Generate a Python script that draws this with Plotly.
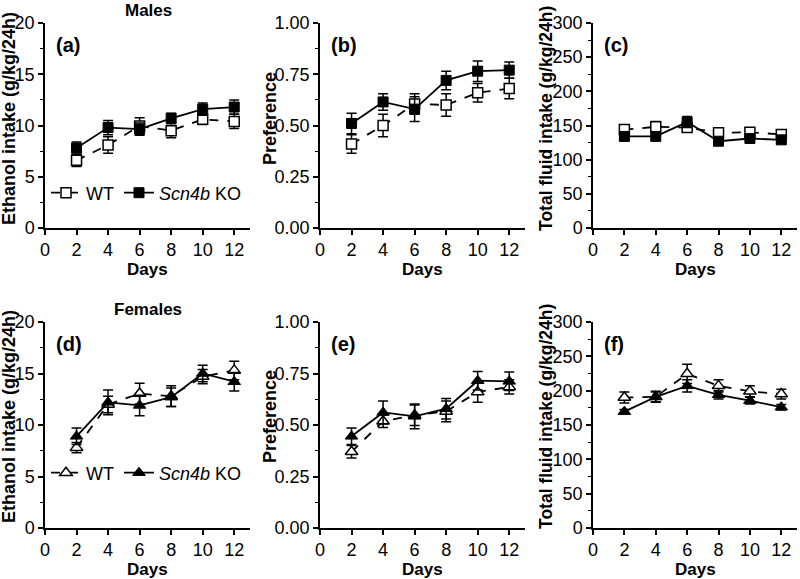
import plotly.graph_objects as go

days = [2, 4, 6, 8, 10, 12]
day_ticks = [0, 2, 4, 6, 8, 10, 12]

# Males
m_eth_wt = [6.6, 8.1, 9.95, 9.5, 10.6, 10.4]
m_eth_wt_err = [0.6, 0.8, 0.8, 0.7, 0.5, 0.7]
m_eth_ko = [7.8, 9.8, 9.65, 10.7, 11.6, 11.8]
m_eth_ko_err = [0.6, 0.7, 0.6, 0.5, 0.6, 0.7]

m_pref_wt = [0.41, 0.50, 0.605, 0.60, 0.66, 0.68]
m_pref_wt_err = [0.045, 0.055, 0.05, 0.055, 0.045, 0.05]
m_pref_ko = [0.51, 0.615, 0.58, 0.72, 0.765, 0.77]
m_pref_ko_err = [0.05, 0.04, 0.06, 0.045, 0.05, 0.04]

m_tot_wt = [144, 148, 147, 139.5, 140, 137]
m_tot_wt_err = [5, 8, 6, 5, 4, 4]
m_tot_ko = [134, 134, 155, 127, 131, 129]
m_tot_ko_err = [4, 5, 8, 4, 4, 4]

# Females
f_eth_wt = [7.8, 12.0, 13.05, 12.8, 14.7, 15.3]
f_eth_wt_err = [0.5, 0.8, 1.0, 1.0, 0.7, 0.9]
f_eth_ko = [8.9, 12.2, 11.9, 12.7, 15.0, 14.2]
f_eth_ko_err = [0.8, 1.2, 1.0, 0.9, 0.8, 0.9]

f_pref_wt = [0.37, 0.518, 0.547, 0.566, 0.66, 0.685]
f_pref_wt_err = [0.03, 0.03, 0.05, 0.05, 0.05, 0.035]
f_pref_ko = [0.445, 0.561, 0.542, 0.579, 0.715, 0.712]
f_pref_ko_err = [0.04, 0.055, 0.06, 0.05, 0.045, 0.045]

f_tot_wt = [190, 191, 224.5, 207, 199, 195]
f_tot_wt_err = [8, 7, 14, 9, 8, 7]
f_tot_ko = [169.5, 191, 207, 194, 185.5, 176]
f_tot_ko_err = [3, 8, 9, 6, 5, 4]

panel_letters = ["(a)", "(b)", "(c)", "(d)", "(e)", "(f)"]
ylabels = ["Ethanol intake (g/kg/24h)", "Preference", "Total fluid intake (g/kg/24h)"]
xlabel = "Days"
row_titles = ["Males", "Females"]

FONT = "Liberation Sans, Arial, Helvetica, sans-serif"
W, H = 800, 579

fig = go.Figure()

x_px = [(45, 250), (320, 525), (593, 797)]
y_px = [(23, 228), (322, 528)]
x_domains = [[a / W, b / W] for a, b in x_px]
y_domains = [[1 - b / H, 1 - a / H] for a, b in y_px]
ytitle_x = [9, 270, 546]
ytitle_size = [18, 18, 17.5]
ytitle_y = [119, 417]
xtitle_y = [269, 569]

panels = [
    (0, 0, m_eth_wt, m_eth_wt_err, m_eth_ko, m_eth_ko_err, [0, 20], 5, 2.5, None),
    (0, 1, m_pref_wt, m_pref_wt_err, m_pref_ko, m_pref_ko_err, [0, 1], 0.25, 0.125, ".2f"),
    (0, 2, m_tot_wt, m_tot_wt_err, m_tot_ko, m_tot_ko_err, [0, 300], 50, 25, None),
    (1, 0, f_eth_wt, f_eth_wt_err, f_eth_ko, f_eth_ko_err, [0, 20], 5, 2.5, None),
    (1, 1, f_pref_wt, f_pref_wt_err, f_pref_ko, f_pref_ko_err, [0, 1], 0.25, 0.125, ".2f"),
    (1, 2, f_tot_wt, f_tot_wt_err, f_tot_ko, f_tot_ko_err, [0, 300], 50, 25, None),
]

for i, (r, c, wt, wte, ko, koe, yr, dt, mn, fmt) in enumerate(panels):
    idx = i + 1
    xa = "x" if idx == 1 else f"x{idx}"
    ya = "y" if idx == 1 else f"y{idx}"
    sym = "square" if r == 0 else "triangle-up"
    msize = 10 if r == 0 else 11
    leg = "legend" if r == 0 else "legend2"
    show = (c == 0)
    fig.add_trace(go.Scatter(
        x=days, y=wt, xaxis=xa, yaxis=ya, mode="lines+markers",
        name="WT", legend=leg, showlegend=show,
        line=dict(color="black", width=1.8, dash="dash"),
        marker=dict(symbol=sym, size=msize, color="white",
                    line=dict(color="black", width=1.5)),
        error_y=dict(type="data", array=wte, color="black", thickness=1.5, width=5),
    ))
    fig.add_trace(go.Scatter(
        x=days, y=ko, xaxis=xa, yaxis=ya, mode="lines+markers",
        name="<i>Scn4b</i> KO", legend=leg, showlegend=show,
        line=dict(color="black", width=1.8),
        marker=dict(symbol=sym, size=msize, color="black",
                    line=dict(color="black", width=1)),
        error_y=dict(type="data", array=koe, color="black", thickness=1.5, width=5),
    ))
    axis_common = dict(showline=True, linecolor="black", linewidth=1.5,
                       ticks="outside", tickcolor="black", tickwidth=1.5, ticklen=5,
                       showgrid=False, zeroline=False, automargin=False,
                       tickfont=dict(family=FONT, size=18, color="black"))
    xkey = "xaxis" if idx == 1 else f"xaxis{idx}"
    ykey = "yaxis" if idx == 1 else f"yaxis{idx}"
    fig.layout[xkey] = dict(domain=x_domains[c], anchor=ya, range=[0, 13],
                            tickvals=day_ticks, **axis_common)
    yd = dict(domain=y_domains[r], anchor=xa, range=yr, dtick=dt,
              minor=dict(dtick=mn, ticks="outside", ticklen=3, tickcolor="black", tickwidth=1),
              **axis_common)
    if fmt:
        yd["tickformat"] = fmt
    fig.layout[ykey] = yd
    fig.add_annotation(text=f"<b>{panel_letters[i]}</b>", xref="paper", yref="paper",
                       x=(x_px[c][0] + 9) / W, y=1 - (y_px[r][0] + 22) / H,
                       xanchor="left", yanchor="middle", showarrow=False,
                       font=dict(family=FONT, size=20, color="black"))
    fig.add_annotation(text=f"<b>{ylabels[c]}</b>", xref="paper", yref="paper",
                       x=ytitle_x[c] / W, y=1 - ytitle_y[r] / H, textangle=-90,
                       xanchor="center", yanchor="middle", showarrow=False,
                       font=dict(family=FONT, size=ytitle_size[c], color="black"))
    fig.add_annotation(text=f"<b>{xlabel}</b>", xref="paper", yref="paper",
                       x=(x_px[c][0] + x_px[c][1]) / 2 / W, y=1 - xtitle_y[r] / H,
                       xanchor="center", yanchor="middle", showarrow=False,
                       font=dict(family=FONT, size=17, color="black"))

for t, ty in [(row_titles[0], 11), (row_titles[1], 309)]:
    fig.add_annotation(text=f"<b>{t}</b>", xref="paper", yref="paper", x=148 / W, y=1 - ty / H,
                       xanchor="center", yanchor="middle", showarrow=False,
                       font=dict(family=FONT, size=17, color="black"))

leg_common = dict(orientation="h", xanchor="left", yanchor="middle",
                  bgcolor="rgba(0,0,0,0)", font=dict(family=FONT, size=18, color="black"),
                  itemwidth=30, tracegroupgap=0)
fig.update_layout(
    width=W, height=H, margin=dict(l=0, r=0, t=0, b=0),
    paper_bgcolor="white", plot_bgcolor="white",
    legend=dict(x=46 / W, y=1 - 193 / H, **leg_common),
    legend2=dict(x=46 / W, y=1 - 473 / H, **leg_common),
)

fig.write_html("out.html", config={"displayModeBar": False},
               post_script="document.body.style.margin='0';")
